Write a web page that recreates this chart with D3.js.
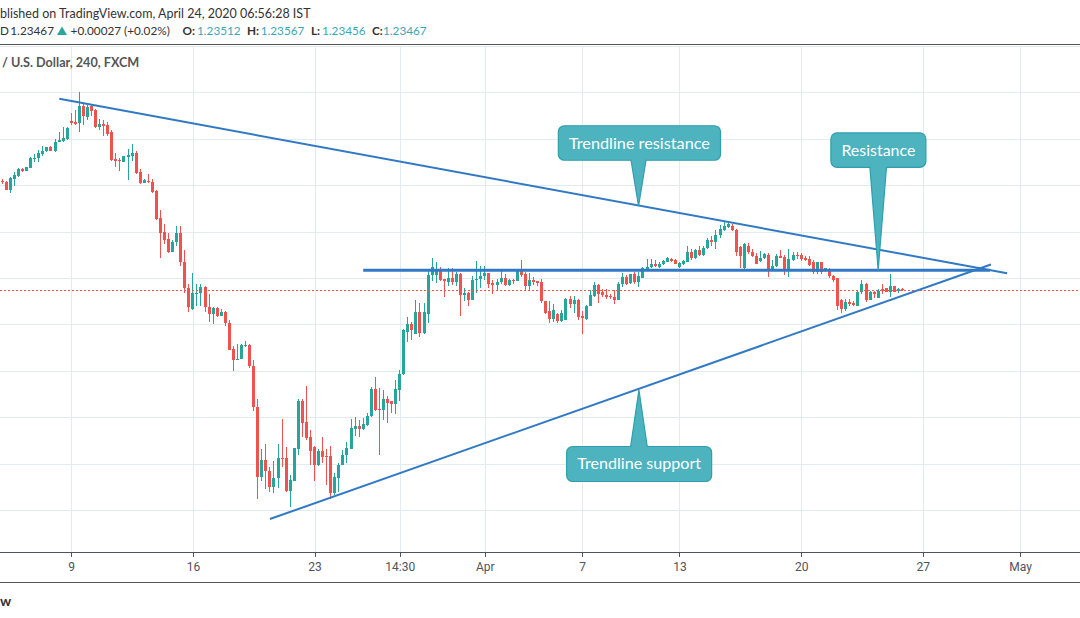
<!DOCTYPE html>
<html><head><meta charset="utf-8">
<script src="https://cdn.jsdelivr.net/npm/d3@7"></script>
<style>html,body{margin:0;padding:0;background:#fff;overflow:hidden}</style>
</head><body>
<svg id="chart" width="1080" height="618"></svg>
<script>
// ---------- DATA (GBP/USD, 240, FXCM) ----------
const opens = [
1.2819,1.2815,1.2780,1.2827,1.2840,1.2871,1.2862,1.2875,1.2915,1.2915,
1.2935,1.2945,1.2964,1.2948,1.2984,1.2990,1.2999,1.3077,1.3073,1.3066,
1.3142,1.3095,1.3139,1.3125,1.3049,1.3065,1.3060,1.3027,1.2914,1.2909,
1.2898,1.2922,1.2927,1.2940,1.2858,1.2810,1.2818,1.2815,1.2776,1.2659,
1.2599,1.2569,1.2513,1.2553,1.2595,1.2470,1.2358,1.2266,1.2332,1.2333,
1.2362,1.2276,1.2243,1.2270,1.2238,1.2254,1.2207,1.2095,1.2045,1.2049,
1.2106,1.2112,1.2020,1.1845,1.1543,1.1615,1.1569,1.1499,1.1536,1.1625,
1.1624,1.1484,1.1527,1.1665,1.1871,1.1780,1.1714,1.1672,1.1595,1.1655,
1.1634,1.1634,1.1475,1.1540,1.1594,1.1635,1.1664,1.1751,1.1763,1.1751,
1.1766,1.1803,1.1922,1.1837,1.1832,1.1879,1.1868,1.1857,1.1919,1.1984,
1.2169,1.2202,1.2160,1.2254,1.2161,1.2246,1.2411,1.2414,1.2432,1.2397,
1.2384,1.2401,1.2384,1.2417,1.2325,1.2337,1.2306,1.2389,1.2394,1.2407,
1.2420,1.2377,1.2368,1.2381,1.2398,1.2368,1.2392,1.2385,1.2430,1.2415,
1.2364,1.2392,1.2388,1.2384,1.2302,1.2256,1.2224,1.2246,1.2215,1.2220,
1.2309,1.2289,1.2306,1.2234,1.2225,1.2277,1.2324,1.2370,1.2338,1.2327,
1.2323,1.2317,1.2303,1.2372,1.2404,1.2378,1.2415,1.2381,1.2398,1.2435,
1.2447,1.2458,1.2447,1.2458,1.2470,1.2482,1.2478,1.2447,1.2461,1.2470,
1.2513,1.2484,1.2521,1.2498,1.2527,1.2565,1.2556,1.2585,1.2605,1.2620,
1.2625,1.2608,1.2533,1.2441,1.2536,1.2513,1.2496,1.2475,1.2487,1.2499,
1.2435,1.2453,1.2496,1.2490,1.2432,1.2478,1.2501,1.2499,1.2487,1.2482,
1.2470,1.2427,1.2467,1.2432,1.2438,1.2407,1.2398,1.2306,1.2266,1.2298,
1.2292,1.2277,1.2338,1.2372,1.2306,1.2341,1.2315,1.2352,1.2355,1.2341,
1.2364,1.2344,1.23512];
const highs = [
1.2826,1.2819,1.2833,1.2858,1.2875,1.2875,1.2879,1.2922,1.2935,1.2950,
1.2970,1.2964,1.2967,1.2999,1.3027,1.3050,1.3050,1.3109,1.3124,1.3202,
1.3151,1.3146,1.3146,1.3129,1.3085,1.3082,1.3070,1.3039,1.2940,1.2918,
1.2927,1.2957,1.2978,1.2948,1.2871,1.2827,1.2849,1.2827,1.2780,1.2694,
1.2634,1.2595,1.2562,1.2625,1.2625,1.2521,1.2375,1.2421,1.2375,1.2375,
1.2364,1.2332,1.2275,1.2275,1.2266,1.2258,1.2220,1.2105,1.2115,1.2114,
1.2128,1.2114,1.2047,1.1879,1.1663,1.1685,1.1587,1.1612,1.1685,1.1792,
1.1671,1.1551,1.1668,1.1879,1.1878,1.1935,1.1746,1.1674,1.1663,1.1714,
1.1663,1.1677,1.1559,1.1602,1.1660,1.1693,1.1793,1.1802,1.1786,1.1797,
1.1818,1.1932,1.1975,1.1924,1.1918,1.1892,1.1871,1.1961,1.2005,1.2180,
1.2231,1.2210,1.2306,1.2292,1.2292,1.2440,1.2486,1.2470,1.2447,1.2397,
1.2443,1.2443,1.2426,1.2420,1.2357,1.2340,1.2407,1.2474,1.2453,1.2450,
1.2422,1.2392,1.2397,1.2440,1.2416,1.2397,1.2397,1.2436,1.2478,1.2424,
1.2422,1.2404,1.2388,1.2396,1.2302,1.2300,1.2288,1.2251,1.2263,1.2313,
1.2323,1.2323,1.2309,1.2259,1.2284,1.2349,1.2382,1.2373,1.2352,1.2352,
1.2332,1.2349,1.2382,1.2422,1.2414,1.2418,1.2424,1.2427,1.2447,1.2482,
1.2482,1.2478,1.2467,1.2478,1.2490,1.2487,1.2482,1.2467,1.2478,1.2538,
1.2525,1.2525,1.2536,1.2538,1.2570,1.2579,1.2608,1.2628,1.2639,1.2642,
1.2631,1.2611,1.2539,1.2550,1.2550,1.2525,1.2508,1.2516,1.2508,1.2508,
1.2478,1.2502,1.2521,1.2499,1.2525,1.2510,1.2512,1.2508,1.2493,1.2493,
1.2478,1.2470,1.2470,1.2444,1.2441,1.2413,1.2401,1.2309,1.2310,1.2309,
1.2301,1.2346,1.2389,1.2378,1.2344,1.2344,1.2352,1.2375,1.2358,1.2418,
1.2367,1.2358,1.23567];
const lows = [
1.2805,1.2777,1.2768,1.2797,1.2837,1.2858,1.2862,1.2874,1.2898,1.2901,
1.2927,1.2944,1.2946,1.2944,1.2984,1.2987,1.2994,1.3060,1.3059,1.3030,
1.3060,1.3082,1.3096,1.3047,1.3039,1.3013,1.3013,1.2905,1.2879,1.2862,
1.2898,1.2823,1.2902,1.2849,1.2805,1.2807,1.2810,1.2764,1.2651,1.2487,
1.2545,1.2506,1.2513,1.2539,1.2452,1.2336,1.2254,1.2260,1.2280,1.2280,
1.2254,1.2212,1.2200,1.2230,1.2234,1.2191,1.2088,1.2001,1.2045,1.2049,
1.2102,1.2010,1.1825,1.1447,1.1525,1.1490,1.1477,1.1473,1.1495,1.1585,
1.1477,1.1412,1.1526,1.1639,1.1713,1.1701,1.1596,1.1527,1.1588,1.1601,
1.1507,1.1447,1.1463,1.1477,1.1594,1.1602,1.1664,1.1717,1.1713,1.1746,
1.1763,1.1799,1.1826,1.1639,1.1789,1.1776,1.1816,1.1815,1.1868,1.1981,
1.2122,1.2134,1.2160,1.2145,1.2158,1.2206,1.2385,1.2378,1.2388,1.2316,
1.2364,1.2371,1.2364,1.2237,1.2299,1.2281,1.2306,1.2335,1.2357,1.2392,
1.2357,1.2331,1.2349,1.2374,1.2364,1.2364,1.2374,1.2385,1.2402,1.2346,
1.2349,1.2371,1.2364,1.2294,1.2246,1.2206,1.2212,1.2206,1.2210,1.2220,
1.2270,1.2249,1.2220,1.2160,1.2220,1.2277,1.2320,1.2292,1.2320,1.2309,
1.2309,1.2288,1.2303,1.2363,1.2371,1.2375,1.2375,1.2361,1.2398,1.2430,
1.2444,1.2447,1.2441,1.2456,1.2467,1.2467,1.2458,1.2444,1.2456,1.2467,
1.2478,1.2482,1.2496,1.2493,1.2525,1.2536,1.2525,1.2570,1.2603,1.2617,
1.2603,1.2496,1.2441,1.2438,1.2504,1.2490,1.2458,1.2467,1.2482,1.2406,
1.2432,1.2447,1.2484,1.2412,1.2406,1.2475,1.2482,1.2475,1.2473,1.2452,
1.2418,1.2415,1.2418,1.2427,1.2401,1.2381,1.2263,1.2249,1.2257,1.2277,
1.2277,1.2277,1.2332,1.2297,1.2303,1.2312,1.2312,1.2332,1.2338,1.2318,
1.2338,1.2335,1.23456];
const closes = [
1.2813,1.2780,1.2830,1.2845,1.2871,1.2862,1.2878,1.2918,1.2918,1.2940,
1.2948,1.2964,1.2948,1.2987,1.2996,1.3004,1.3046,1.3069,1.3065,1.3142,
1.3096,1.3137,1.3121,1.3049,1.3065,1.3056,1.3020,1.2909,1.2902,1.2902,
1.2927,1.2931,1.2940,1.2853,1.2810,1.2820,1.2812,1.2772,1.2654,1.2595,
1.2565,1.2513,1.2556,1.2595,1.2467,1.2355,1.2276,1.2335,1.2335,1.2361,
1.2275,1.2243,1.2270,1.2238,1.2254,1.2205,1.2090,1.2045,1.2051,1.2112,
1.2111,1.2019,1.1842,1.1543,1.1615,1.1566,1.1499,1.1538,1.1624,1.1621,
1.1484,1.1530,1.1667,1.1871,1.1777,1.1711,1.1656,1.1595,1.1655,1.1628,
1.1628,1.1475,1.1543,1.1595,1.1638,1.1667,1.1754,1.1763,1.1751,1.1769,
1.1807,1.1922,1.1832,1.1832,1.1879,1.1863,1.1857,1.1922,1.1987,1.2174,
1.2202,1.2177,1.2254,1.2161,1.2253,1.2414,1.2447,1.2432,1.2391,1.2385,
1.2401,1.2384,1.2417,1.2325,1.2337,1.2306,1.2392,1.2397,1.2410,1.2420,
1.2374,1.2370,1.2384,1.2398,1.2370,1.2392,1.2385,1.2430,1.2411,1.2364,
1.2392,1.2384,1.2378,1.2299,1.2251,1.2224,1.2263,1.2213,1.2249,1.2309,
1.2289,1.2306,1.2230,1.2226,1.2280,1.2327,1.2370,1.2331,1.2325,1.2320,
1.2316,1.2303,1.2375,1.2406,1.2375,1.2415,1.2384,1.2407,1.2441,1.2447,
1.2458,1.2453,1.2461,1.2475,1.2484,1.2475,1.2461,1.2464,1.2475,1.2513,
1.2484,1.2521,1.2498,1.2527,1.2565,1.2556,1.2587,1.2611,1.2625,1.2631,
1.2605,1.2513,1.2493,1.2545,1.2510,1.2493,1.2461,1.2487,1.2504,1.2435,
1.2453,1.2496,1.2487,1.2432,1.2481,1.2501,1.2496,1.2482,1.2478,1.2456,
1.2427,1.2467,1.2427,1.2441,1.2407,1.2392,1.2277,1.2268,1.2295,1.2289,
1.2284,1.2341,1.2372,1.2303,1.2338,1.2329,1.2344,1.2344,1.2341,1.2364,
1.2341,1.2352,1.23467];

const tickBars   = [17, 47, 77, 98, 119, 143, 167, 197, 227, 251];
const tickLabels = ["9", "16", "23", "14:30", "Apr", "7", "13", "20", "27", "May"];
const priceGrid  = [1.14, 1.16, 1.18, 1.20, 1.22, 1.24, 1.26, 1.28, 1.30, 1.32, 1.34];
const lastPrice  = 1.23467;

// header texts as visible in the (left-cropped) snapshot
const publishedText = "blished on TradingView.com, April 24, 2020 06:56:28 IST";
const symbolTail = "D";
const quoteLast = "1.23467";
const quoteChange = "+0.00027 (+0.02%)";
const ohlcLabels = ["O:", "H:", "L:", "C:"];
const ohlcValues = ["1.23512", "1.23567", "1.23456", "1.23467"];
const titleText = "/ U.S. Dollar, 240, FXCM";
const watermarkTail = "w";

// drawings: [bar index, price]
const trendResistance = [[14.06, 1.3172], [247.8, 1.2420]];
const horizResistance = [[89.0, 1.2433], [243.6, 1.2433]];
const trendSupport    = [[66.0, 1.1361], [243.8, 1.2458]];

const calloutTexts  = ["Trendline resistance", "Resistance", "Trendline support"];
const calloutBars   = [156.9, 216.0, 157.0];
const calloutPrices = [1.2709, 1.2433, 1.1918];

// ---------- LAYOUT ----------
const W = 1080, H = 618;
const svg = d3.select("#chart");
const x = d3.scaleLinear().domain([-0.567, 265.77]).range([0, W]);
const y = d3.scaleLinear().domain([1.14, 1.32]).range([510, 92.3]);
const plotTop = 45.5, axisY = 552.7, axisBottom = 582.4;

const GREEN = "#26a69a", RED = "#ef5350", GRID = "#e1ecf2", BLUE = "#3179c5";
const TEAL_FILL = "#4cb3bf", TEAL_STROKE = "#2f9fad";

function fitSize(str, target, family, weight) {
  const t = svg.append("text").attr("font-family", family).attr("font-weight", weight || "normal")
    .attr("font-size", 100).text(str);
  const w = t.node().getComputedTextLength();
  t.remove();
  return 100 * target / w;
}

// grid
const gGrid = svg.append("g").attr("shape-rendering", "crispEdges");
gGrid.selectAll("line.h").data(priceGrid).join("line")
  .attr("x1", 0).attr("x2", W)
  .attr("y1", d => Math.round(y(d)) + 0.5).attr("y2", d => Math.round(y(d)) + 0.5)
  .attr("stroke", GRID);
gGrid.selectAll("line.v").data(tickBars).join("line")
  .attr("x1", d => Math.round(x(d)) + 0.5).attr("x2", d => Math.round(x(d)) + 0.5)
  .attr("y1", plotTop).attr("y2", axisY)
  .attr("stroke", GRID);

// header
const hdrFamily = "Lato, 'Open Sans', sans-serif";
const fs1 = fitSize(publishedText, 311, hdrFamily);
svg.append("text").attr("x", 0).attr("y", 18)
  .attr("font-family", hdrFamily).attr("font-size", fs1).attr("fill", "#333").text(publishedText);

const fs2 = fitSize(quoteLast, 43.7, hdrFamily);
const line2 = svg.append("g").attr("font-family", hdrFamily).attr("font-size", fs2);
line2.append("text").attr("x", 0).attr("y", 35).attr("fill", "#333").text(symbolTail);
line2.append("text").attr("x", 10.3).attr("y", 35).attr("fill", "#333").text(quoteLast);
line2.append("path").attr("d", "M57,35 L62,26.5 L67,35 Z").attr("fill", "#2aa79b");
line2.append("text").attr("x", 70.6).attr("y", 35).attr("fill", "#333").text(quoteChange);
const labX = [182.5, 247, 311, 372], valX = [197, 260.7, 322, 383];
ohlcLabels.forEach((l, i) => {
  line2.append("text").attr("x", labX[i]).attr("y", 35).attr("fill", "#333").attr("font-weight", "bold").text(l);
  line2.append("text").attr("x", valX[i]).attr("y", 35).attr("fill", "#3aa8b4").text(ohlcValues[i]);
});
svg.append("line").attr("x1", 0).attr("x2", W).attr("y1", 44.5).attr("y2", 44.5)
  .attr("stroke", "#555").attr("shape-rendering", "crispEdges");

const fs3 = fitSize(titleText, 137.5, hdrFamily, "bold");
svg.append("text").attr("x", 2).attr("y", 67)
  .attr("font-family", hdrFamily).attr("font-weight", "bold").attr("font-size", fs3)
  .attr("fill", "#555").text(titleText);

// candles
const candles = opens.map((o, i) => ({i, o, h: highs[i], l: lows[i], c: closes[i]}));
const gC = svg.append("g").attr("shape-rendering", "crispEdges");
const cg = gC.selectAll("g").data(candles).join("g")
  .attr("fill", d => d.c >= d.o ? GREEN : RED);
cg.append("rect")
  .attr("x", d => Math.round(x(d.i) - 1.5) + 1).attr("width", 1)
  .attr("y", d => y(d.h)).attr("height", d => Math.max(1, y(d.l) - y(d.h)));
cg.append("rect")
  .attr("x", d => Math.round(x(d.i) - 1.5)).attr("width", 3)
  .attr("y", d => y(Math.max(d.o, d.c)))
  .attr("height", d => Math.max(1, Math.abs(y(d.o) - y(d.c))));

// last price dotted line
svg.append("line").attr("x1", 0).attr("x2", W)
  .attr("y1", Math.round(y(lastPrice)) + 0.5).attr("y2", Math.round(y(lastPrice)) + 0.5)
  .attr("stroke", RED).attr("stroke-width", 1).attr("stroke-dasharray", "2,2")
  .attr("shape-rendering", "crispEdges");

// trend lines
const ln = d3.line().x(d => x(d[0])).y(d => y(d[1]));
svg.append("path").attr("d", ln(trendResistance)).attr("stroke", BLUE).attr("stroke-width", 2).attr("fill", "none");
svg.append("path").attr("d", ln(trendSupport)).attr("stroke", BLUE).attr("stroke-width", 2).attr("fill", "none");
svg.append("path").attr("d", ln(horizResistance)).attr("stroke", BLUE).attr("stroke-width", 3).attr("fill", "none");

// callouts (box geometry relative to tip, in px)
const calloutBoxes = [
  {dx0: -80.2, dx1: 82, dy0: -80.5, dy1: -46, half: 7.5, up: false, tw: 141},
  {dx0: -47.3, dx1: 47.7, dy0: -137.4, dy1: -103, half: 8.3, up: false, tw: 74},
  {dx0: -72.3, dx1: 72.7, dy0: 56.7, dy1: 91.7, half: 8.3, up: true, tw: 124}
];
const cFamily = "Lato, 'Open Sans', sans-serif";
calloutTexts.forEach((t, k) => {
  const tx = x(calloutBars[k]), ty = y(calloutPrices[k]);
  const b = calloutBoxes[k], r = 6;
  const x0 = tx + b.dx0, x1 = tx + b.dx1, y0 = ty + b.dy0, y1 = ty + b.dy1;
  const bl = tx - b.half, br = tx + b.half;
  let d;
  if (!b.up) {
    d = `M${x0 + r},${y0} H${x1 - r} A${r},${r} 0 0 1 ${x1},${y0 + r} V${y1 - r} A${r},${r} 0 0 1 ${x1 - r},${y1}` +
        ` H${br} L${tx},${ty} L${bl},${y1} H${x0 + r} A${r},${r} 0 0 1 ${x0},${y1 - r} V${y0 + r} A${r},${r} 0 0 1 ${x0 + r},${y0} Z`;
  } else {
    d = `M${x0 + r},${y0} H${bl} L${tx},${ty} L${br},${y0} H${x1 - r} A${r},${r} 0 0 1 ${x1},${y0 + r} V${y1 - r} A${r},${r} 0 0 1 ${x1 - r},${y1}` +
        ` H${x0 + r} A${r},${r} 0 0 1 ${x0},${y1 - r} V${y0 + r} A${r},${r} 0 0 1 ${x0 + r},${y0} Z`;
  }
  svg.append("path").attr("d", d).attr("fill", TEAL_FILL).attr("stroke", TEAL_STROKE).attr("stroke-width", 1.2);
  const fs = fitSize(t, b.tw, cFamily);
  svg.append("text").attr("x", (x0 + x1) / 2).attr("y", (y0 + y1) / 2 + fs * 0.34)
    .attr("text-anchor", "middle").attr("font-family", cFamily).attr("font-size", fs)
    .attr("fill", "#fff").text(t);
});

// time axis
svg.append("line").attr("x1", 0).attr("x2", W).attr("y1", axisY).attr("y2", axisY)
  .attr("stroke", "#50535e").attr("shape-rendering", "crispEdges");
svg.append("line").attr("x1", 0).attr("x2", W).attr("y1", axisBottom).attr("y2", axisBottom)
  .attr("stroke", "#50535e").attr("shape-rendering", "crispEdges");
const ax = d3.axisBottom(x).tickValues(tickBars).tickFormat((d, i) => tickLabels[i]).tickSize(4).tickPadding(6);
const gAx = svg.append("g").attr("transform", `translate(0,${axisY})`).call(ax);
gAx.select(".domain").remove();
gAx.selectAll(".tick line").attr("stroke", "#50535e").attr("shape-rendering", "crispEdges");
gAx.selectAll(".tick text").attr("fill", "#50535e").attr("font-family", "Roboto, 'Liberation Sans', sans-serif").attr("font-size", 12);

// watermark tail
svg.append("text").attr("x", 0).attr("y", 606)
  .attr("font-family", hdrFamily).attr("font-weight", "bold").attr("font-size", 14)
  .attr("fill", "#333").text(watermarkTail);
</script>
</body></html>
